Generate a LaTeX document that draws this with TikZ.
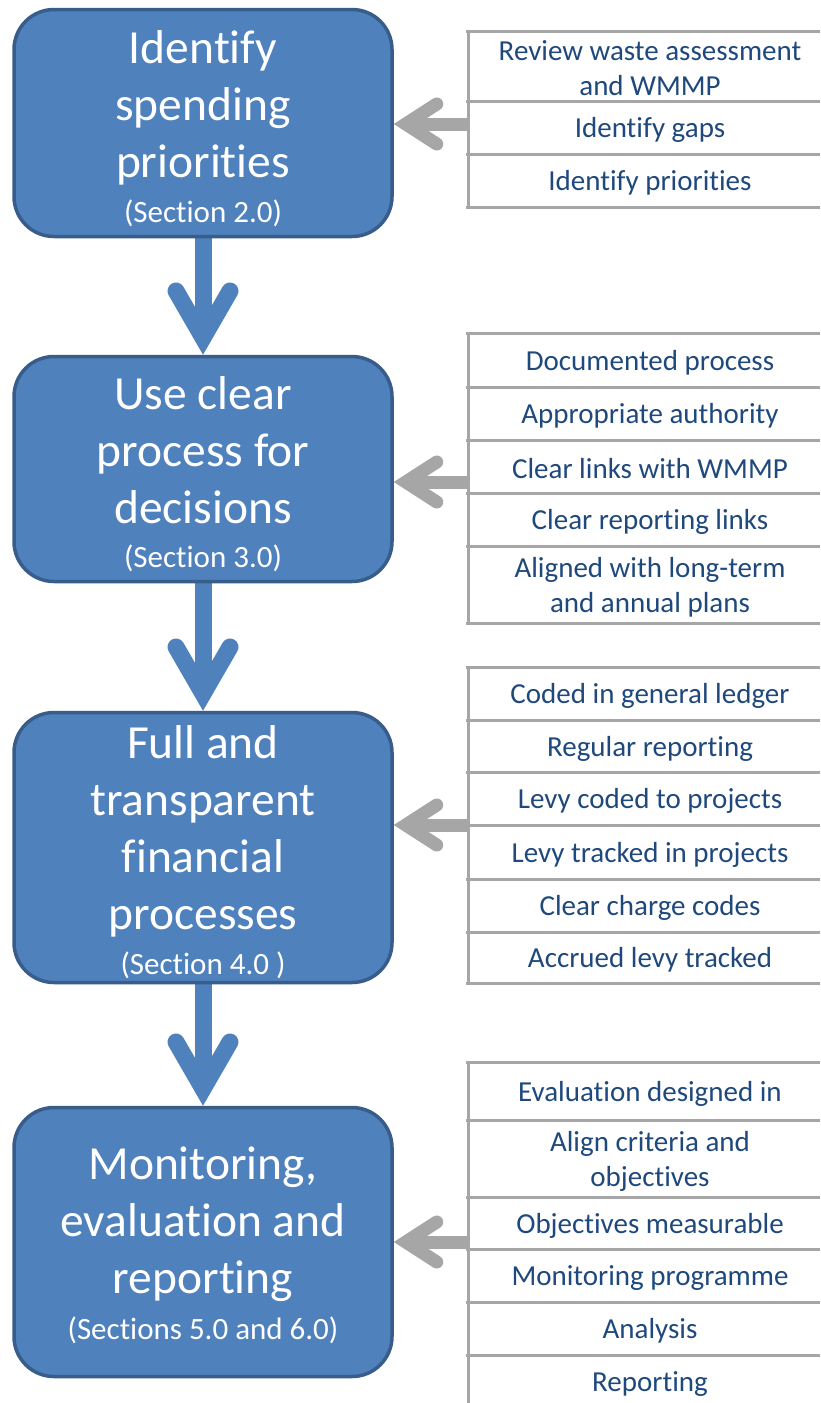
\documentclass[tikz,border=0pt]{standalone}
\usepackage{fontspec}
\setmainfont{Carlito}[Ligatures={NoCommon,NoRare,NoContextual}]
\usetikzlibrary{backgrounds,calc}
\definecolor{boxfill}{HTML}{4F81BD}
\definecolor{boxline}{HTML}{385D8A}
\definecolor{greyline}{HTML}{A6A6A6}
\definecolor{listtext}{HTML}{1F497D}
\begin{document}
\begin{tikzpicture}[x=1pt,y=-1pt,
 stage/.style={draw=boxline, line width=3.5pt, fill=boxfill, rounded corners=40pt, minimum width=378pt, inner sep=0pt},
 stagetext/.style={text=white, font=\fontsize{47.5}{57}\selectfont, align=center, inner sep=0pt, anchor=base},
 sectext/.style={text=white, font=\fontsize{31}{37}\selectfont, inner sep=0pt, anchor=base},
 item/.style={text=listtext, font=\fontsize{29}{35}\selectfont, align=center, inner sep=0pt},
 rule/.style={draw=greyline, line width=3pt},
 downshaft/.style={draw=boxfill, line width=17pt},
 downhead/.style={draw=boxfill, line width=17pt, line cap=round, line join=miter},
 sideshaft/.style={draw=greyline, line width=13pt},
 sidehead/.style={draw=greyline, line width=13pt, line cap=round, line join=miter}]
\useasboundingbox (0,0) rectangle (820,1403);

% stages (text anchor = baseline of last line)
\node[stage, minimum height=227pt] (b1) at (203,123) {};
\node[stagetext] (t1) at (203,177) {Identify\\spending\\priorities};
\node[sectext] (s1) at (203,222) {(Section 2.0)};

\node[stage, minimum height=225pt] (b2) at (203,469) {};
\node[stagetext] (t2) at (203,523) {Use clear\\process for\\decisions};
\node[sectext] (s2) at (203,567) {(Section 3.0)};

\node[stage, minimum height=270pt] (b3) at (203,847.5) {};
\node[stagetext] (t3) at (203,929) {Full and\\transparent\\financial\\processes};
\node[sectext] (s3) at (203,974) {(Section 4.0 )};

\node[stage, minimum height=269pt] (b4) at (203,1242) {};
\node[stagetext] (t4) at (203,1293) {Monitoring,\\evaluation and\\reporting};
\node[sectext] (s4) at (203,1339) {(Sections 5.0 and 6.0)};

% list 1
\foreach \yy in {31,101,154,207} \draw[rule] (466,\yy) -- (820,\yy);
\draw[rule] (468,31) -- (468,207);
\node[item] (r11) at (650,68.5) {Review waste assessment\\and WMMP};
\node[item] (r12) at (650,130) {Identify gaps};
\node[item] (r13) at (650,183) {Identify priorities};

% list 2
\foreach \yy in {333,387,440,493,546,623} \draw[rule] (466,\yy) -- (820,\yy);
\draw[rule] (468,333) -- (468,623);
\node[item] (r21) at (650,362.5) {Documented process};
\node[item] (r22) at (650,416) {Appropriate authority};
\node[item] (r23) at (650,469) {Clear links with WMMP};
\node[item] (r24) at (650,522) {Clear reporting links};
\node[item] (r25) at (650,587) {Aligned with long-term\\and annual plans};

% list 3
\foreach \yy in {667,720,772,825,879,932,983} \draw[rule] (466,\yy) -- (820,\yy);
\draw[rule] (468,667) -- (468,983);
\node[item] (r31) at (650,696) {Coded in general ledger};
\node[item] (r32) at (650,748.5) {Regular reporting};
\node[item] (r33) at (650,801) {Levy coded to projects};
\node[item] (r34) at (650,854.5) {Levy tracked in projects};
\node[item] (r35) at (650,908) {Clear charge codes};
\node[item] (r36) at (650,960) {Accrued levy tracked};

% list 4
\foreach \yy in {1062,1120,1197,1249,1302,1355} \draw[rule] (466,\yy) -- (820,\yy);
\draw[rule] (468,1062) -- (468,1403);
\node[item] (r41) at (650,1093.5) {Evaluation designed in};
\node[item] (r42) at (650,1161) {Align criteria and\\objectives};
\node[item] (r43) at (650,1225.5) {Objectives measurable};
\node[item] (r44) at (650,1278) {Monitoring programme};
\node[item] (r45) at (650,1331) {Analysis};
\node[item] (r46) at (650,1384) {Reporting};

% connector anchors
\coordinate (l1) at (468,124);
\coordinate (l2) at (468,482);
\coordinate (l3) at (468,825);
\coordinate (l4) at (468,1242);
\coordinate (p1) at (b1.east |- l1);
\coordinate (p2) at (b2.east |- l2);
\coordinate (p3) at (b3.east |- l3);
\coordinate (p4) at (b4.east |- l4);
\coordinate (v2) at ([yshift=17pt]b2.north);
\coordinate (v3) at ([yshift=17pt]b3.north);
\coordinate (v4) at ([yshift=17pt]b4.north);

\begin{scope}[on background layer]
\fill[white] (0,0) rectangle (820,1403);
% down arrows
\draw[downshaft] (b1.south) -- (v2);
\draw[downhead] ([shift={(-27pt,46.8pt)}]v2) -- (v2) -- ([shift={(27pt,46.8pt)}]v2);
\draw[downshaft] (b2.south) -- (v3);
\draw[downhead] ([shift={(-27pt,46.8pt)}]v3) -- (v3) -- ([shift={(27pt,46.8pt)}]v3);
\draw[downshaft] (b3.south) -- (v4);
\draw[downhead] ([shift={(-27pt,46.8pt)}]v4) -- (v4) -- ([shift={(27pt,46.8pt)}]v4);
% side arrows
\foreach \i in {1,2,3,4} {
  \draw[sideshaft] (l\i) -- ([xshift=12pt]p\i);
  \draw[sidehead] ([shift={(43pt,20pt)}]p\i) -- ([xshift=12pt]p\i) -- ([shift={(43pt,-20pt)}]p\i);
}
\end{scope}
\end{tikzpicture}
\end{document}
